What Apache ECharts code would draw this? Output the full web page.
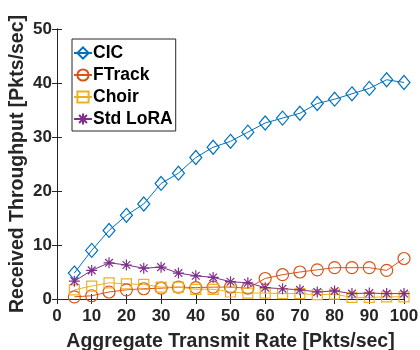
<!DOCTYPE html>
<html>
<head>
<meta charset="utf-8">
<script src="https://cdn.jsdelivr.net/npm/echarts@6/dist/echarts.min.js"></script>
<style>
  html, body { margin: 0; padding: 0; background: #fff; }
  #chart { width: 420px; height: 350px; }
</style>
</head>
<body>
<div id="chart"></div>
<script>
// Aggregate transmit rate (Pkts/sec)
const rates = [5, 10, 15, 20, 25, 30, 35, 40, 45, 50, 55, 60, 65, 70, 75, 80, 85, 90, 95, 100];

// Received throughput (Pkts/sec) per scheme
const cic     = [4.8, 9.0, 12.7, 15.5, 17.6, 21.4, 23.3, 26.2, 28.1, 29.2, 30.9, 32.6, 33.5, 34.4, 36.2, 37.0, 38.0, 39.0, 40.6, 40.1];
const ftrack  = [0.4, 0.6, 1.3, 1.7, 1.9, 2.0, 2.2, 2.1, 2.2, 2.2, 2.0, 3.8, 4.5, 5.0, 5.4, 5.8, 5.8, 5.8, 5.3, 7.5];
const choir   = [1.7, 2.4, 3.0, 2.8, 2.7, 2.2, 2.2, 1.8, 1.8, 1.3, 1.1, 1.1, 1.0, 1.0, 0.8, 0.9, 0.3, 0.3, 0.4, 0.4];
const stdLora = [3.3, 5.3, 6.7, 6.3, 5.7, 5.9, 4.8, 4.3, 4.0, 3.2, 3.0, 2.1, 1.9, 1.7, 1.3, 1.5, 1.0, 1.1, 1.0, 1.0];

const xTicks = [0, 10, 20, 30, 40, 50, 60, 70, 80, 90, 100];
const yTicks = [0, 10, 20, 30, 40, 50];

const seriesNames = ['CIC', 'FTrack', 'Choir', 'Std LoRA'];
const colors = ['#0072BD', '#D95319', '#EDB120', '#7E2F8E'];

const FONT = '"Liberation Sans", Arial, Helvetica, sans-serif';
const AXIS_COLOR = '#262626';

// asterisk marker: plus and cross strokes
const ASTERISK = 'path://M5,0L5,10M0,5L10,5M1.5,1.5L8.5,8.5M1.5,8.5L8.5,1.5';

function pairs(vals) {
  return rates.map((r, i) => [r, vals[i]]);
}

function makeSeries(name, vals, color, symbol, size) {
  return {
    name: name,
    type: 'line',
    data: pairs(vals),
    symbol: symbol,
    symbolSize: size,
    showAllSymbol: true,
    lineStyle: { color: color, width: 1 },
    itemStyle: { color: 'rgba(0,0,0,0)', borderColor: color, borderWidth: 1.2 },
    emphasis: { disabled: true },
    animation: false
  };
}

const chart = echarts.init(document.getElementById('chart'), null, { renderer: 'canvas' });

const baseAxis = {
  axisLine: { show: true, lineStyle: { color: AXIS_COLOR, width: 1 } },
  axisTick: { show: true, inside: true, length: 5, lineStyle: { color: AXIS_COLOR, width: 1 } },
  splitLine: { show: false }
};

chart.setOption({
  backgroundColor: '#ffffff',
  animation: false,
  grid: { left: 57, right: 16, top: 29, bottom: 51, containLabel: false, outerBoundsMode: 'none' },
  xAxis: [
    Object.assign({}, baseAxis, {
      type: 'value', min: 0, max: 100, interval: 10, position: 'bottom',
      name: 'Aggregate Transmit Rate [Pkts/sec]',
      nameLocation: 'middle', nameGap: 33, nameMoveOverlap: false,
      nameTextStyle: { fontFamily: FONT, fontWeight: 'bold', fontSize: 19.5, color: AXIS_COLOR },
      axisLabel: {
        fontFamily: FONT, fontWeight: 'bold', fontSize: 17, color: AXIS_COLOR, margin: 9,
        formatter: v => (xTicks.indexOf(v) >= 0 ? String(v) : '')
      }
    }),
    Object.assign({}, baseAxis, {
      type: 'value', min: 0, max: 100, interval: 10, position: 'top',
      axisLabel: { show: false }
    })
  ],
  yAxis: [
    Object.assign({}, baseAxis, {
      type: 'value', min: 0, max: 50, interval: 10, position: 'left',
      name: 'Received Throughput [Pkts/sec]',
      nameLocation: 'middle', nameGap: 29, nameMoveOverlap: false,
      nameTextStyle: { fontFamily: FONT, fontWeight: 'bold', fontSize: 19.5, color: AXIS_COLOR },
      axisLabel: {
        fontFamily: FONT, fontWeight: 'bold', fontSize: 17, color: AXIS_COLOR, margin: 5,
        formatter: v => (yTicks.indexOf(v) >= 0 ? String(v) : '')
      }
    }),
    Object.assign({}, baseAxis, {
      type: 'value', min: 0, max: 50, interval: 10, position: 'right',
      axisLabel: { show: false }
    })
  ],
  legend: {
    orient: 'vertical',
    left: 72, top: 39,
    data: seriesNames,
    backgroundColor: '#ffffff',
    borderColor: '#262626',
    borderWidth: 1,
    borderRadius: 0,
    padding: [5, 3, 3, 1],
    itemGap: 4,
    itemWidth: 18,
    itemHeight: 14,
    selectedMode: false,
    textStyle: {
      fontFamily: FONT, fontWeight: 'bold', fontSize: 17.5, color: '#000', lineHeight: 18,
      padding: [0, 0, 0, -4]
    }
  },
  series: [
    makeSeries(seriesNames[0], cic, colors[0], 'diamond', [12, 14]),
    makeSeries(seriesNames[1], ftrack, colors[1], 'circle', 12),
    makeSeries(seriesNames[2], choir, colors[2], 'rect', 10),
    makeSeries(seriesNames[3], stdLora, colors[3], ASTERISK, 11)
  ]
});
</script>
</body>
</html>
